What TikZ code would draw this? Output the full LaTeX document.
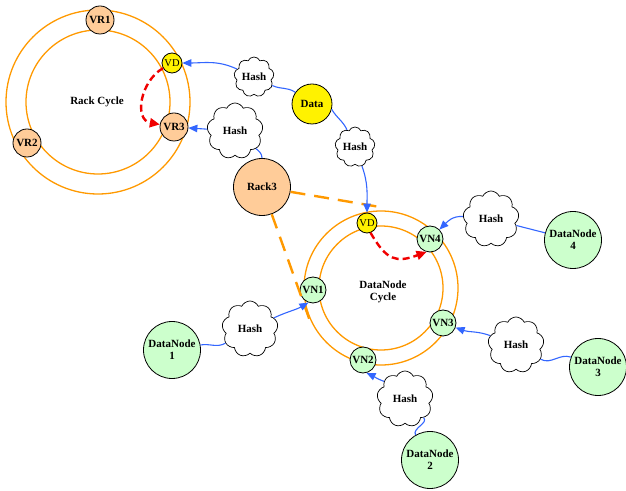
\documentclass[tikz,border=0pt]{standalone}
\usepackage{fontspec}
\setmainfont{Liberation Serif}
\usetikzlibrary{shapes.symbols,arrows.meta}

\definecolor{ringorange}{RGB}{255,153,0}
\definecolor{peach}{RGB}{255,204,153}
\definecolor{vgreen}{RGB}{204,255,204}
\definecolor{linkblue}{RGB}{51,102,255}
\definecolor{dashred}{RGB}{240,0,0}

\begin{document}
\begin{tikzpicture}[x=1pt,y=1pt,
  font=\fontsize{11}{12}\selectfont\bfseries,
  ring/.style={circle,draw=ringorange,line width=1.3pt,inner sep=0pt,minimum size=#1},
  basecircle/.style={circle,draw=black,line width=0.8pt,inner sep=0pt},
  rnode/.style={basecircle,fill=peach,minimum size=28pt},
  gnode/.style={basecircle,fill=vgreen,minimum size=26pt},
  vdnode/.style={basecircle,fill=yellow,minimum size=20pt,font=\fontsize{10.5}{12}\selectfont\mdseries},
  bignode/.style={basecircle,align=center,minimum size=57pt},
  hashcloud/.style={cloud,draw=black,line width=0.7pt,cloud puffs=9,cloud puff arc=130,
    aspect=1,inner sep=0pt,fill=white,minimum width=#1,minimum height=#1},
  link/.style={draw=linkblue,line width=1.1pt},
  linkarrow/.style={link,-{Triangle[length=9pt,width=7.5pt]}},
  vmove/.style={draw=dashred,line width=2.4pt,dash pattern=on 7pt off 4pt,
    -{Triangle[length=10pt,width=9pt]}},
  cone/.style={draw=ringorange,line width=2.4pt,dash pattern=on 15pt off 9pt}
]
\useasboundingbox (0,0) rectangle (626,490);

% ---- rack ring ----
\node[ring=184pt] (rackouter) at (98,388) {};
\node[ring=144pt] (rackinner) at (98,388) {};
\node (racklabel) at (97,388) {Rack Cycle};
\node[rnode] (vr1) at (100,470) {VR1};
\node[rnode] (vr2) at (27,347) {VR2};
\node[rnode] (vr3) at (174,363) {VR3};
\node[vdnode] (vdr) at (172,427) {VD};

% ---- datanode ring ----
\node[ring=154pt] (dnouter) at (381,202) {};
\node[ring=124pt] (dninner) at (381,202) {};
\node[align=center] (dnlabel) at (383,198) {DataNode\\Cycle};
\node[vdnode] (vdd) at (367,267) {VD};
\node[gnode] (vn4) at (430,251) {VN4};
\node[gnode] (vn1) at (313,200) {VN1};
\node[gnode] (vn3) at (443,167) {VN3};
\node[gnode] (vn2) at (363,130) {VN2};

% ---- sources ----
\node[basecircle,fill=yellow,minimum size=40pt] (data) at (312,386) {Data};
\node[basecircle,fill=peach,minimum size=57pt] (rack3) at (262,303) {Rack3};
\node[bignode,fill=vgreen] (dn4) at (573,250) {DataNode\\4};
\node[bignode,fill=vgreen] (dn3) at (598,123) {DataNode\\3};
\node[bignode,fill=vgreen] (dn1) at (172,140) {DataNode\\1};
\node[bignode,fill=vgreen] (dn2) at (430,30) {DataNode\\2};

% ---- hash clouds ----
\node[hashcloud=38pt] (hashvd) at (254,413) {Hash};
\node[hashcloud=56pt] (hashrack) at (235,359) {Hash};
\node[hashcloud=37pt] (hashdn) at (355,343) {Hash};
\node[hashcloud=56pt] (hash4) at (491,271) {Hash};
\node[hashcloud=56pt] (hash3) at (516,145) {Hash};
\node[hashcloud=56pt] (hash1) at (250,161) {Hash};
\node[hashcloud=56pt] (hash2) at (405,91) {Hash};

% ---- cone from Rack3 onto the datanode ring ----
\coordinate (conetop) at (380,283);
\coordinate (conebottom) at (310,169);
\draw[cone] (rack3) -- (conetop);
\draw[cone] (rack3) -- (conebottom);

% ---- hashing links ----
\draw[link] (data) to[out=145,in=-25] (hashvd);
\draw[linkarrow] (hashvd) to[out=155,in=0] (vdr);
\draw[link] (rack3.north) to[out=90,in=-40] (hashrack);
\draw[linkarrow] (hashrack) -- (vr3);
\draw[link] (data.-15) to[out=-60,in=115] (hashdn);
\draw[linkarrow] (hashdn) to[out=-70,in=90] (vdd);
\draw[link] (dn4) -- (hash4);
\draw[linkarrow] (hash4) to[out=175,in=45] (vn4);
\draw[link] (dn3) to[out=160,in=-30] (hash3);
\draw[linkarrow] (hash3) to[out=160,in=-20] (vn3);
\draw[link] (dn1) to[out=10,in=-150] (hash1);
\draw[linkarrow] (hash1) to[out=25,in=-150] (vn1.-110);
\draw[link] (dn2) to[out=120,in=-45] (hash2);
\draw[linkarrow] (hash2.140) to[out=160,in=-25] (vn2.-75);

% ---- virtual data moves ----
\draw[vmove] (vdr) to[out=210,in=170,looseness=1.2] (vr3);
\draw[vmove] (vdd.-70) to[out=-60,in=200,looseness=1.4] (vn4.-105);
\end{tikzpicture}
\end{document}
